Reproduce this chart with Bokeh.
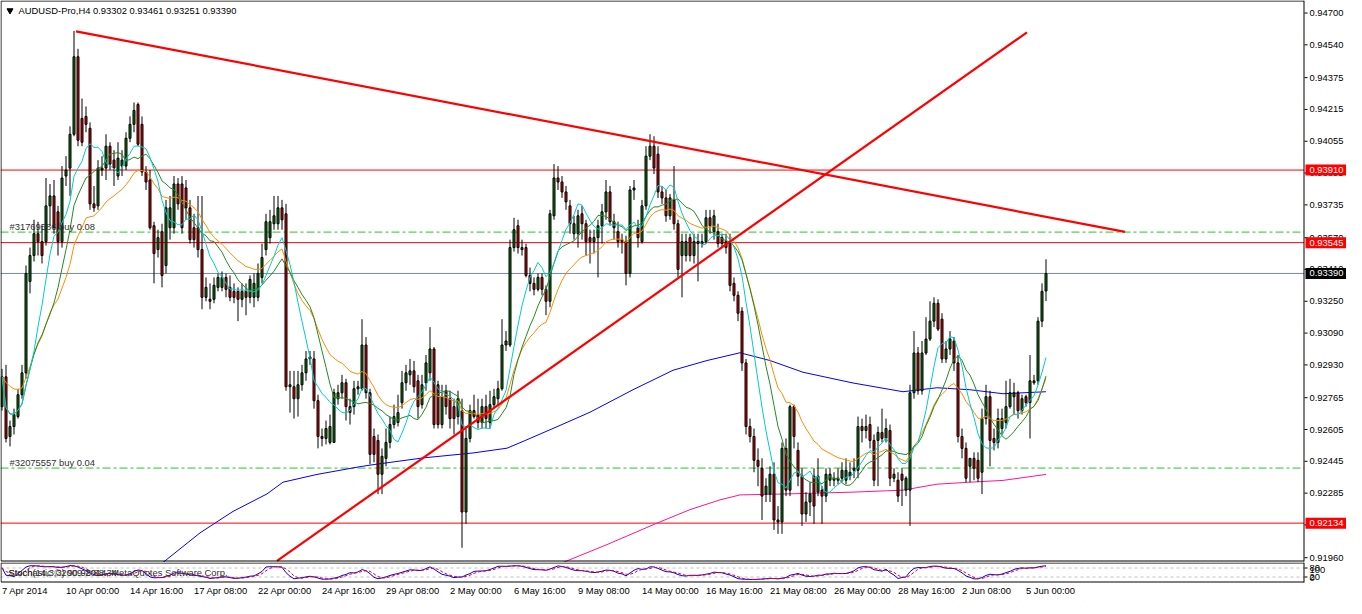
import numpy as np
import pandas as pd
from bokeh.plotting import figure
from bokeh.models import Range1d
from bokeh.layouts import column
from bokeh.embed import file_html
from bokeh.resources import INLINE
from bokeh.core.properties import value

FONT = "Liberation Sans"

# ---------------- data (H4 bars, AUDUSD) ----------------
opens = [0.9272,0.9287,0.9257,0.9262,0.9267,0.9278,0.9289,0.9335,0.9348,0.9359,
0.9355,0.9355,0.9373,0.9378,0.9370,0.9355,0.9388,0.9392,0.9409,0.9448,
0.9417,0.9418,0.9412,0.9374,0.9373,0.9391,0.9392,0.9403,0.9396,0.9388,
0.9393,0.9393,0.9407,0.9414,0.9424,0.9414,0.9390,0.9386,0.9363,0.9351,
0.9360,0.9343,0.9362,0.9362,0.9384,0.9384,0.9382,0.9372,0.9362,0.9362,
0.9351,0.9327,0.9326,0.9326,0.9332,0.9332,0.9337,0.9332,0.9330,0.9330,
0.9326,0.9330,0.9327,0.9327,0.9327,0.9337,0.9351,0.9357,0.9364,0.9364,
0.9372,0.9369,0.9282,0.9282,0.9276,0.9283,0.9289,0.9296,0.9296,0.9275,
0.9257,0.9256,0.9254,0.9254,0.9276,0.9279,0.9284,0.9272,0.9272,0.9281,
0.9281,0.9303,0.9279,0.9257,0.9255,0.9238,0.9246,0.9254,0.9263,0.9264,
0.9274,0.9284,0.9288,0.9290,0.9285,0.9273,0.9284,0.9289,0.9301,0.9283,
0.9263,0.9280,0.9276,0.9272,0.9267,0.9270,0.9219,0.9256,0.9270,0.9268,
0.9264,0.9272,0.9264,0.9273,0.9276,0.9281,0.9303,0.9303,0.9352,0.9363,
0.9352,0.9352,0.9338,0.9334,0.9331,0.9337,0.9331,0.9325,0.9368,0.9387,
0.9385,0.9380,0.9373,0.9359,0.9359,0.9369,0.9364,0.9357,0.9355,0.9357,
0.9363,0.9370,0.9380,0.9365,0.9360,0.9356,0.9355,0.9339,0.9381,0.9362,
0.9355,0.9373,0.9398,0.9403,0.9399,0.9380,0.9377,0.9368,0.9376,0.9364,
0.9348,0.9348,0.9357,0.9348,0.9355,0.9354,0.9355,0.9367,0.9360,0.9360,
0.9357,0.9355,0.9355,0.9334,0.9328,0.9320,0.9294,0.9262,0.9257,0.9245,
0.9241,0.9228,0.9228,0.9238,0.9215,0.9214,0.9251,0.9230,0.9272,0.9250,
0.9237,0.9218,0.9224,0.9237,0.9229,0.9230,0.9227,0.9235,0.9235,0.9235,
0.9236,0.9235,0.9237,0.9240,0.9240,0.9262,0.9260,0.9263,0.9255,0.9255,
0.9259,0.9256,0.9260,0.9236,0.9235,0.9238,0.9230,0.9230,0.9279,0.9299,
0.9280,0.9299,0.9306,0.9315,0.9324,0.9316,0.9296,0.9301,0.9305,0.9294,
0.9257,0.9251,0.9242,0.9246,0.9245,0.9239,0.9266,0.9277,0.9256,0.9254,
0.9261,0.9264,0.9272,0.9277,0.9279,0.9270,0.9277,0.9274,0.9284,0.9285,
0.9315,0.93302]
highs = [0.9291,0.9293,0.9265,0.9271,0.9281,0.9293,0.9343,0.9352,0.9366,0.9365,
0.9363,0.9387,0.9384,0.9386,0.9373,0.9393,0.9398,0.9413,0.9461,0.9452,
0.9427,0.9423,0.9415,0.9383,0.9396,0.9398,0.9409,0.9405,0.9401,0.9405,
0.9401,0.9410,0.9418,0.9425,0.9425,0.9418,0.9393,0.9391,0.9365,0.9361,
0.9364,0.9376,0.9378,0.9388,0.9387,0.9388,0.9386,0.9376,0.9369,0.9378,
0.9378,0.9337,0.9334,0.9337,0.9339,0.9340,0.9339,0.9338,0.9334,0.9332,
0.9334,0.9334,0.9338,0.9339,0.9344,0.9354,0.9369,0.9371,0.9378,0.9378,
0.9376,0.9374,0.9290,0.9290,0.9290,0.9293,0.9300,0.9300,0.9300,0.9278,
0.9261,0.9265,0.9268,0.9281,0.9283,0.9288,0.9286,0.9276,0.9285,0.9285,
0.9316,0.9307,0.9281,0.9261,0.9258,0.9251,0.9261,0.9267,0.9273,0.9278,
0.9290,0.9293,0.9296,0.9295,0.9288,0.9288,0.9298,0.9312,0.9302,0.9285,
0.9283,0.9283,0.9280,0.9276,0.9280,0.9276,0.9261,0.9273,0.9278,0.9276,
0.9276,0.9278,0.9280,0.9281,0.9285,0.9316,0.9310,0.9356,0.9367,0.9366,
0.9356,0.9354,0.9342,0.9337,0.9339,0.9339,0.9333,0.9371,0.9394,0.9393,
0.9388,0.9383,0.9376,0.9368,0.9371,0.9373,0.9366,0.9361,0.9361,0.9366,
0.9374,0.9386,0.9383,0.9369,0.9365,0.9359,0.9358,0.9383,0.9386,0.9366,
0.9376,0.9403,0.9409,0.9408,0.9403,0.9383,0.9381,0.9379,0.9393,0.9366,
0.9359,0.9359,0.9359,0.9359,0.9359,0.9359,0.9371,0.9371,0.9371,0.9364,
0.9359,0.9359,0.9359,0.9337,0.9330,0.9322,0.9296,0.9266,0.9261,0.9251,
0.9246,0.9236,0.9242,0.9244,0.9222,0.9254,0.9256,0.9273,0.9273,0.9254,
0.9241,0.9229,0.9234,0.9241,0.9246,0.9232,0.9241,0.9241,0.9239,0.9241,
0.9244,0.9246,0.9244,0.9246,0.9267,0.9266,0.9268,0.9267,0.9258,0.9262,
0.9271,0.9266,0.9263,0.9241,0.9239,0.9241,0.9237,0.9283,0.9310,0.9302,
0.9305,0.9317,0.9325,0.9327,0.9326,0.9319,0.9305,0.9310,0.9307,0.9298,
0.9261,0.9254,0.9246,0.9249,0.9249,0.9271,0.9283,0.9280,0.9261,0.9271,
0.9271,0.9285,0.9286,0.9284,0.9280,0.9278,0.9278,0.9298,0.9288,0.9317,
0.9334,0.93461]
lows = [0.9270,0.9254,0.9252,0.9258,0.9266,0.9276,0.9286,0.9329,0.9345,0.9348,
0.9344,0.9353,0.9363,0.9359,0.9348,0.9352,0.9383,0.9378,0.9408,0.9403,
0.9403,0.9410,0.9371,0.9370,0.9371,0.9388,0.9386,0.9391,0.9383,0.9386,
0.9388,0.9391,0.9405,0.9410,0.9403,0.9388,0.9381,0.9361,0.9334,0.9347,
0.9332,0.9339,0.9356,0.9359,0.9371,0.9359,0.9366,0.9354,0.9352,0.9347,
0.9321,0.9325,0.9321,0.9324,0.9330,0.9330,0.9327,0.9325,0.9324,0.9315,
0.9322,0.9318,0.9324,0.9322,0.9325,0.9334,0.9348,0.9354,0.9361,0.9361,
0.9361,0.9280,0.9269,0.9266,0.9267,0.9280,0.9285,0.9293,0.9271,0.9251,
0.9252,0.9253,0.9253,0.9254,0.9273,0.9276,0.9265,0.9263,0.9268,0.9278,
0.9280,0.9276,0.9243,0.9244,0.9228,0.9228,0.9242,0.9251,0.9261,0.9262,
0.9271,0.9280,0.9283,0.9279,0.9266,0.9271,0.9280,0.9285,0.9261,0.9261,
0.9261,0.9268,0.9261,0.9258,0.9263,0.9201,0.9213,0.9254,0.9266,0.9261,
0.9261,0.9261,0.9261,0.9271,0.9273,0.9280,0.9300,0.9302,0.9350,0.9349,
0.9348,0.9337,0.9330,0.9328,0.9330,0.9328,0.9318,0.9322,0.9366,0.9381,
0.9377,0.9371,0.9359,0.9356,0.9352,0.9356,0.9348,0.9344,0.9349,0.9337,
0.9354,0.9366,0.9363,0.9356,0.9352,0.9349,0.9333,0.9337,0.9376,0.9352,
0.9354,0.9371,0.9396,0.9389,0.9377,0.9374,0.9365,0.9366,0.9361,0.9337,
0.9327,0.9345,0.9345,0.9344,0.9335,0.9352,0.9354,0.9359,0.9356,0.9352,
0.9352,0.9349,0.9330,0.9325,0.9315,0.9290,0.9258,0.9254,0.9239,0.9232,
0.9215,0.9224,0.9224,0.9210,0.9208,0.9208,0.9227,0.9227,0.9251,0.9232,
0.9212,0.9214,0.9217,0.9213,0.9227,0.9213,0.9224,0.9232,0.9232,0.9233,
0.9234,0.9233,0.9235,0.9236,0.9236,0.9254,0.9256,0.9251,0.9232,0.9232,
0.9254,0.9254,0.9232,0.9234,0.9224,0.9222,0.9227,0.9212,0.9276,0.9278,
0.9278,0.9298,0.9305,0.9312,0.9310,0.9294,0.9294,0.9298,0.9290,0.9254,
0.9246,0.9234,0.9234,0.9235,0.9234,0.9228,0.9263,0.9242,0.9250,0.9251,
0.9258,0.9261,0.9271,0.9268,0.9266,0.9268,0.9272,0.9256,0.9283,0.9283,
0.9312,0.93251]
closes = [0.9287,0.9256,0.9262,0.9268,0.9278,0.9289,0.9339,0.9348,0.9359,0.9355,
0.9348,0.9373,0.9378,0.9362,0.9355,0.9387,0.9391,0.9409,0.9448,0.9406,
0.9405,0.9414,0.9374,0.9372,0.9392,0.9392,0.9403,0.9394,0.9392,0.9397,
0.9396,0.9407,0.9414,0.9421,0.9404,0.9390,0.9385,0.9362,0.9349,0.9357,
0.9338,0.9372,0.9372,0.9384,0.9374,0.9362,0.9372,0.9356,0.9356,0.9351,
0.9327,0.9332,0.9325,0.9333,0.9337,0.9337,0.9331,0.9327,0.9327,0.9326,
0.9330,0.9327,0.9336,0.9334,0.9339,0.9347,0.9365,0.9365,0.9368,0.9372,
0.9366,0.9282,0.9283,0.9276,0.9283,0.9289,0.9296,0.9297,0.9275,0.9257,
0.9256,0.9261,0.9262,0.9279,0.9279,0.9284,0.9272,0.9269,0.9281,0.9282,
0.9303,0.9279,0.9248,0.9248,0.9238,0.9247,0.9254,0.9263,0.9267,0.9269,
0.9284,0.9289,0.9290,0.9282,0.9272,0.9283,0.9294,0.9301,0.9263,0.9263,
0.9277,0.9272,0.9266,0.9266,0.9276,0.9219,0.9256,0.9270,0.9267,0.9264,
0.9272,0.9266,0.9273,0.9277,0.9281,0.9303,0.9305,0.9352,0.9361,0.9352,
0.9351,0.9338,0.9334,0.9331,0.9337,0.9331,0.9325,0.9369,0.9387,0.9385,
0.9380,0.9375,0.9364,0.9364,0.9368,0.9364,0.9355,0.9355,0.9357,0.9363,
0.9370,0.9380,0.9365,0.9362,0.9355,0.9355,0.9339,0.9381,0.9382,0.9357,
0.9373,0.9398,0.9403,0.9392,0.9380,0.9377,0.9368,0.9377,0.9364,0.9341,
0.9355,0.9355,0.9348,0.9355,0.9354,0.9355,0.9367,0.9363,0.9368,0.9354,
0.9354,0.9352,0.9333,0.9328,0.9319,0.9294,0.9262,0.9257,0.9245,0.9242,
0.9227,0.9232,0.9238,0.9215,0.9214,0.9251,0.9230,0.9272,0.9257,0.9237,
0.9218,0.9224,0.9228,0.9222,0.9237,0.9227,0.9238,0.9238,0.9236,0.9236,
0.9240,0.9240,0.9239,0.9241,0.9262,0.9260,0.9262,0.9255,0.9235,0.9259,
0.9256,0.9261,0.9236,0.9238,0.9227,0.9235,0.9236,0.9279,0.9299,0.9280,
0.9299,0.9306,0.9315,0.9324,0.9311,0.9296,0.9301,0.9306,0.9294,0.9257,
0.9251,0.9236,0.9246,0.9241,0.9236,0.9266,0.9277,0.9255,0.9254,0.9266,
0.9266,0.9272,0.9279,0.9279,0.9270,0.9276,0.9274,0.9285,0.9285,0.9315,
0.9330,0.93390]

# long moving averages (bar index, value)
ma_blue_bars = [38, 49.5, 57.75, 66.25, 70.25, 78.75, 89.5, 92.75, 105.25, 117.75, 126.25, 130.25,
                138.75, 147, 157.75, 167.75, 176.25, 184.5, 192, 200.25, 212.75, 225.25, 233.75,
                242, 250.25, 261]
ma_blue_vals = [0.9190, 0.92085, 0.92193, 0.92281, 0.9234, 0.92379, 0.92418, 0.92428, 0.92462,
                0.92487, 0.92511, 0.92545, 0.92619, 0.92692, 0.92805, 0.92903, 0.92952, 0.92991,
                0.92952, 0.92893, 0.92839, 0.92795, 0.92815, 0.92805, 0.92785, 0.92795]
ma_pink_bars = [139.5, 151.25, 163.75, 172, 179.5, 184.5, 196.25, 212.75, 225.25, 233.75, 242,
                250.25, 261]
ma_pink_vals = [0.9193, 0.92026, 0.92134, 0.92202, 0.92251, 0.92276, 0.92281, 0.9229, 0.9230,
                0.9233, 0.9234, 0.92349, 0.92379]

# levels
red_levels = [0.93910, 0.93545, 0.92134]
bid_price = 0.93390
order_levels = [0.93598, 0.92411]
order_texts = ["#31769586 buy 0.08", "#32075557 buy 0.04"]

# trend lines (bar index, price)
trend_down_bars = [18.5, 280.75]
trend_down_vals = [0.94608, 0.93599]
trend_up_bars = [68.75, 256.25]
trend_up_vals = [0.91944, 0.94603]

price_ticks = [0.94700, 0.94540, 0.94375, 0.94215, 0.94055, 0.93895, 0.93735, 0.93570, 0.93410,
               0.93250, 0.93090, 0.92930, 0.92765, 0.92605, 0.92445, 0.92285, 0.92125, 0.91960]
stoch_levels = [80, 20]
stoch_scale_labels = ["80", "100", "20", "0"]
time_tick_bars = [0, 16, 32, 48, 64, 80, 96, 112, 128, 144, 160, 176, 192, 208, 224, 240, 256]
time_tick_labels = ["7 Apr 2014", "10 Apr 00:00", "14 Apr 16:00", "17 Apr 08:00", "22 Apr 00:00",
                    "24 Apr 16:00", "29 Apr 08:00", "2 May 00:00", "6 May 16:00", "9 May 08:00",
                    "14 May 00:00", "16 May 16:00", "21 May 08:00", "26 May 00:00", "28 May 16:00",
                    "2 Jun 08:00", "5 Jun 00:00"]

title_text = "AUDUSD-Pro,H4  0.93302 0.93461 0.93251 0.93390"
stoch_text_a = "Stoch(14,3,3) 90.98 88.34"
stoch_text_b = "Stochastic ©2009-2014, MetaQuotes Software Corp."

# ---------------- derived indicators ----------------
o = np.array(opens); h = np.array(highs); l = np.array(lows); c = np.array(closes)
x = np.arange(len(c))
cs = pd.Series(c)
ma_cyan = cs.rolling(8, min_periods=1).mean().values
ma_green = cs.rolling(13, min_periods=1).mean().values
ma_orange = cs.ewm(span=21, adjust=False).mean().values
hh = pd.Series(h).rolling(14, min_periods=1).max()
ll = pd.Series(l).rolling(14, min_periods=1).min()
num = (cs - ll).rolling(3, min_periods=1).sum()
den = (hh - ll).rolling(3, min_periods=1).sum()
stoch_k = (100 * num / den).values
stoch_d = pd.Series(stoch_k).rolling(3, min_periods=1).mean().values

# ---------------- geometry ----------------
W = 1346
PX = 4.0                     # pixels per bar
X0 = -0.375                  # bar value at left canvas edge
def bx(px):                  # canvas pixel -> bar coordinate
    return X0 + px / PX
AXIS_PX = 1303.5
XR = Range1d(X0, bx(W))

HP = 562
P_TOP, P_BOT = 0.94763, 0.91936
KP = (P_TOP - P_BOT) / HP
def py(px):
    return P_TOP - px * KP

HS = 36
S_TOP = 116.7
KS = 1 / 0.15
S_BOT = S_TOP - HS * KS
def sy(px):
    return S_TOP - px * KS

TXT = dict(text_font=value(FONT), text_font_size=value("9.4px"), text_baseline="middle",
           text_align="left")

def base_fig(h, yr):
    f = figure(width=W, height=h, x_range=XR, y_range=yr, output_backend="svg",
               toolbar_location=None, x_axis_location=None, y_axis_location=None,
               min_border=0, min_border_left=0, min_border_right=0, min_border_top=0,
               min_border_bottom=0, background_fill_color="white", border_fill_color="white",
               outline_line_color=None)
    f.grid.visible = False
    return f

# ================= price panel =================
p = base_fig(HP, Range1d(P_BOT, P_TOP))
xl, xa = bx(0.5), bx(AXIS_PX)
yt, yb = py(0.5), py(560.5)

# horizontal levels (end at price axis)
p.segment([X0] * 3, red_levels, [xa] * 3, red_levels, line_color="#ff0000", line_width=1)
p.segment([X0], [bid_price], [xa], [bid_price], line_color="#778899", line_width=1)
p.segment([X0] * 2, order_levels, [xa] * 2, order_levels, line_color="#22c922", line_width=1,
          line_dash="8 3 3 3")

# long MAs
p.line(ma_blue_bars, ma_blue_vals, line_color="#0000ff", line_width=1)
p.line(ma_pink_bars, ma_pink_vals, line_color="#ff1493", line_width=1)

# candles
inc = c >= o
colors = np.where(inc, "#0a780a", "#e00000")
p.segment(x, h, x, l, line_color="black", line_width=1)
p.vbar(x=x, top=np.maximum(o, c), bottom=np.minimum(o, c), width=0.5,
       fill_color=list(colors), line_color="black", line_width=1)

# short MAs
p.line(x, ma_orange, line_color="#ff8c00", line_width=1)
p.line(x, ma_green, line_color="#228b22", line_width=1)
p.line(x, ma_cyan, line_color="#00cccc", line_width=1)

# trend lines
p.line(trend_down_bars, trend_down_vals, line_color="#ff0000", line_width=2.2)
p.line(trend_up_bars, trend_up_vals, line_color="#ff0000", line_width=2.2)

# texts in the chart
p.scatter([bx(9.5)], [py(10)], marker="inverted_triangle", size=6, fill_color="black",
          line_color="black")
p.text([bx(18)], [py(10)], text=[title_text], text_color="black", **TXT)
p.text([bx(9)] * 2, [lv + 5.5 * KP for lv in order_levels], text=order_texts,
       text_color="#303030", **TXT)

# frame and price axis
p.line([xa, xl, xl, xa], [yt, yt, yb, yb], line_color="black", line_width=1)
p.segment([xa], [py(0)], [xa], [py(561)], line_color="black", line_width=1)
p.segment([bx(AXIS_PX + 0.5)] * len(price_ticks), price_ticks,
          [bx(AXIS_PX + 3.5)] * len(price_ticks), price_ticks, line_color="black", line_width=1)
p.text([bx(AXIS_PX + 5.5)] * len(price_ticks), price_ticks,
       text=[f"{t:.5f}" for t in price_ticks], text_color="black", **TXT)

box_levels = red_levels + [bid_price]
box_colors = ["#ff0000"] * 3 + ["black"]
p.quad(left=[bx(AXIS_PX + 1.5)] * 4, right=[bx(W)] * 4,
       top=[lv + 5.5 * KP for lv in box_levels], bottom=[lv - 5.5 * KP for lv in box_levels],
       fill_color=box_colors, line_color=None)
p.text([bx(AXIS_PX + 5.5)] * 4, box_levels, text=[f"{lv:.5f}" for lv in box_levels],
       text_color="white", **TXT)

# ================= stochastic panel + time scale =================
s = base_fig(HS, Range1d(S_BOT, S_TOP))
s.segment([X0] * 2, stoch_levels, [xa] * 2, stoch_levels, line_color="#c0c0c0", line_width=1,
          line_dash="3 3")
s.line(x, stoch_k, line_color="#0000ff", line_width=1)
s.line(x, stoch_d, line_color="#ff0000", line_width=1, line_dash="3 2")
s.text([bx(8)] * 2, [sy(9.5)] * 2, text=[stoch_text_b, stoch_text_a], text_color="#303030", **TXT)

syt, syb = sy(0.5), sy(19.5)
s.line([xa, xl, xl, xa], [syt, syt, syb, syb], line_color="black", line_width=1)
s.segment([xa], [S_TOP], [xa], [sy(20)], line_color="black", line_width=1)
s.segment([bx(AXIS_PX + 0.5)] * 2, stoch_levels, [bx(AXIS_PX + 3.5)] * 2, stoch_levels,
          line_color="black", line_width=1)
# scale labels squeezed into the thin sub-window (they overlap, as in the terminal)
s.text([bx(AXIS_PX + 5.5)] * 4, [sy(5.5), sy(7.5), sy(14.0), sy(15.0)], text=stoch_scale_labels,
       text_color="black", **TXT)

s.text(time_tick_bars, [sy(28)] * len(time_tick_bars), text=time_tick_labels,
       text_color="black", **TXT)

layout = column(p, s, spacing=0)
open("out.html", "w").write(file_html(layout, INLINE))
